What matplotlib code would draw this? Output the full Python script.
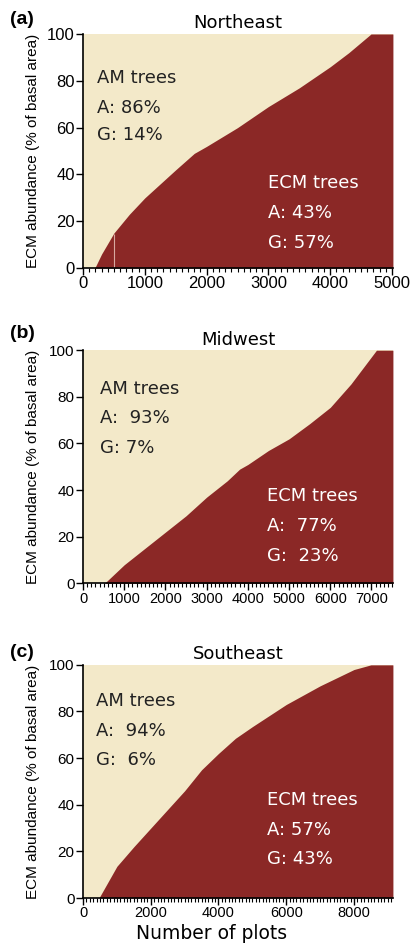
import matplotlib
matplotlib.use("Agg")
import matplotlib.pyplot as plt
from matplotlib.ticker import MultipleLocator

# sorted ECM abundance (% of basal area) against cumulative number of plots
ne_plots = [0, 190, 300, 500, 750, 1000, 1250, 1500, 1800, 2000, 2500, 3000, 3500, 4000, 4300, 4660, 5015]
ne_ecm = [0, 0, 6, 15, 23, 30, 36, 42, 49, 52, 60, 69, 77, 86, 92, 100, 100]

mw_plots = [0, 520, 1000, 1500, 2000, 2500, 3000, 3500, 3800, 4000, 4500, 5000, 5500, 6000, 6500, 7120, 7520]
mw_ecm = [0, 0, 8, 15, 22, 29, 37, 44, 49, 51, 57, 62, 68.5, 75.5, 85.5, 100, 100]

se_plots = [0, 470, 1000, 1500, 2000, 2500, 3000, 3500, 4000, 4500, 5000, 6000, 7000, 8000, 8500, 9150]
se_ecm = [0, 0, 13.6, 22, 30, 38, 46, 55, 62, 68.5, 73.5, 83, 91, 98, 100, 100]

regions = ["Northeast", "Midwest", "Southeast"]
panel_tags = ["(a)", "(b)", "(c)"]
am_text = [["A: 86%", "G: 14%"], ["A:  93%", "G: 7%"], ["A:  94%", "G:  6%"]]
ecm_text = [["A: 43%", "G: 57%"], ["A:  77%", "G:  23%"], ["A: 57%", "G: 43%"]]
x_major = [1000, 1000, 2000]

beige = "#F3E9C9"
darkred = "#8B2826"
tick_font = "Liberation Sans"
text_font = "DejaVu Sans"

fig = plt.figure(figsize=(4.11, 9.44), dpi=100)
rects = [[0.202, 0.716, 0.754, 0.248],
         [0.202, 0.382, 0.754, 0.247],
         [0.202, 0.0487, 0.754, 0.247]]
am_pos = [(0.045, [0.81, 0.684, 0.568]), (0.055, [0.833, 0.708, 0.579]), (0.042, [0.845, 0.717, 0.592])]
ecm_pos = [(0.597, [0.363, 0.235, 0.107]), (0.593, [0.373, 0.245, 0.116]), (0.593, [0.42, 0.292, 0.167])]
tag_y = [0.979, 0.647, 0.309]
xtick_size = [12, 10.5, 10.5]
ytick_size = [12, 11, 11]

data = [(ne_plots, ne_ecm), (mw_plots, mw_ecm), (se_plots, se_ecm)]

for i, (xs, ys) in enumerate(data):
    ax = fig.add_axes(rects[i])
    ax.set_facecolor(beige)
    ax.fill_between(xs, 0, ys, color=darkred, linewidth=0)
    ax.set_xlim(0, xs[-1])
    ax.set_ylim(0, 100)
    if i == 0:
        ax.vlines(500, 0, 14.5, color="#d8a8a0", linewidth=0.8)

    for s in ["top", "right"]:
        ax.spines[s].set_visible(False)
    ax.spines["left"].set_linewidth(1.2)
    ax.spines["bottom"].set_linewidth(1.2)

    ax.set_yticks([0, 20, 40, 60, 80, 100])
    ax.xaxis.set_major_locator(MultipleLocator(x_major[i]))
    ax.xaxis.set_minor_locator(MultipleLocator(100))
    ax.tick_params(axis="both", which="major", direction="out", length=5, width=1, pad=1)
    ax.tick_params(axis="x", which="major", labelsize=xtick_size[i])
    ax.tick_params(axis="y", which="major", labelsize=ytick_size[i])
    ax.tick_params(axis="x", which="minor", direction="out", length=3, width=0.8)
    for lab in ax.get_xticklabels() + ax.get_yticklabels():
        lab.set_fontfamily(tick_font)

    ax.set_title(regions[i], fontsize=13, family=text_font, pad=4)
    ax.set_ylabel("ECM abundance (% of basal area)", fontsize=11, family=tick_font)
    ax.yaxis.set_label_coords(-0.14, 0.5)

    x0, yl = am_pos[i]
    for txt, yy in zip(["AM trees"] + am_text[i], yl):
        ax.text(x0, yy, txt, transform=ax.transAxes, fontsize=13, family=text_font,
                color="#222222", va="center", ha="left")
    x1, yl = ecm_pos[i]
    for txt, yy in zip(["ECM trees"] + ecm_text[i], yl):
        ax.text(x1, yy, txt, transform=ax.transAxes, fontsize=13, family=text_font,
                color="white", va="center", ha="left")

    fig.text(0.025, tag_y[i], panel_tags[i], fontsize=14, fontweight="bold",
             family=tick_font, va="center", ha="left")

    if i == 2:
        ax.set_xlabel("Number of plots", fontsize=13.5, family=text_font)
        ax.xaxis.set_label_coords(0.416, -0.11)

fig.savefig("out.png", dpi=100)
